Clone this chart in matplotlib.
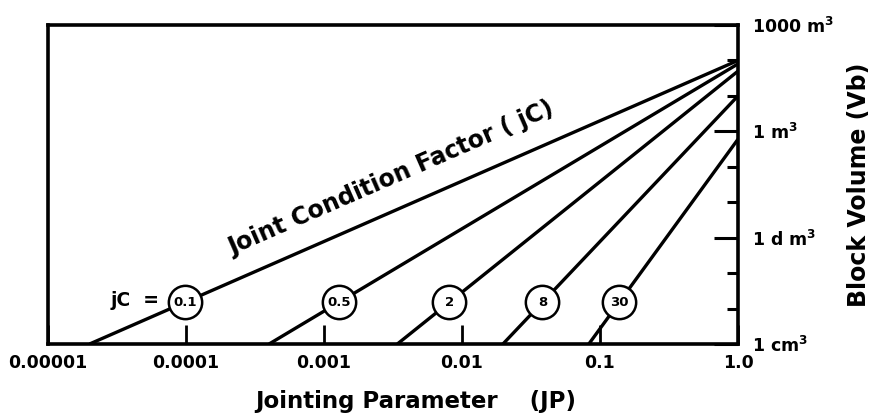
import numpy as np
import matplotlib
matplotlib.use('Agg')
import matplotlib.pyplot as plt
from matplotlib.ticker import FixedLocator, NullFormatter

# joint condition factor for each line
jc_values = [0.1, 0.5, 2, 8, 30]
jc_labels = ['0.1', '0.5', '2', '8', '30']
# jointing parameter where each line meets Vb = 1 cm3 (1e-6 m3)
jp_at_bottom = [2.0e-5, 4.0e-4, 3.4e-3, 0.0198, 0.083]
# block volume (m3) where each line meets JP = 1.0
vb_at_right = [100, 80, 50, 10, 0.6]

# axis ticks
jp_ticks = [1e-5, 1e-4, 1e-3, 1e-2, 1e-1, 1.0]
jp_tick_labels = ['0.00001', '0.0001', '0.001', '0.01', '0.1', '1.0']
vb_major = [1e-6, 1e-3, 1.0, 1e3]
vb_major_labels = [r'1 cm$^\mathbf{3}$', r'1 d m$^\mathbf{3}$',
                   r'1 m$^\mathbf{3}$', r'1000 m$^\mathbf{3}$']
vb_minor = [1e-5, 1e-4, 1e-2, 1e-1, 10, 100]

# level (m3) where the jC circles sit
circle_vb = 1.5e-5

plt.rcParams['font.family'] = ['DejaVu Sans']
plt.rcParams['font.weight'] = 'bold'

fig = plt.figure(figsize=(8.78, 4.20), dpi=100)
ax = fig.add_axes([48 / 878, 76 / 420, 690 / 878, 319 / 420])
ax.set_xscale('log')
ax.set_yscale('log')
ax.set_xlim(1e-5, 1.0)
ax.set_ylim(1e-6, 1e3)

for s in ax.spines.values():
    s.set_linewidth(2.6)

# x axis
ax.xaxis.set_major_locator(FixedLocator(jp_ticks))
ax.set_xticklabels(jp_tick_labels)
ax.xaxis.set_minor_locator(FixedLocator([]))
ax.tick_params(axis='x', which='major', direction='in', length=14, width=2,
               pad=7, labelsize=12.5)

# y axis on the right
ax.yaxis.tick_right()
ax.yaxis.set_major_locator(FixedLocator(vb_major))
ax.set_yticklabels(vb_major_labels)
ax.yaxis.set_minor_locator(FixedLocator(vb_minor))
ax.yaxis.set_minor_formatter(NullFormatter())
ax.tick_params(axis='y', which='major', direction='in', length=17, width=2.2,
               pad=10, labelsize=12.5)
ax.tick_params(axis='y', which='minor', direction='in', length=8, width=2.2)
ax.yaxis.set_label_position('right')

# jC lines and their circled labels
for jc, lab, jp0, vb1 in zip(jc_values, jc_labels, jp_at_bottom, vb_at_right):
    ax.plot([jp0, 1.0], [1e-6, vb1], color='black', lw=2.4,
            solid_capstyle='butt', zorder=3)
    # position along the line in log space
    t = (np.log10(circle_vb) + 6) / (np.log10(vb1) + 6)
    cx = 10 ** (np.log10(jp0) * (1 - t))
    ax.plot(cx, circle_vb, 'o', ms=24, mfc='white', mec='black', mew=1.8,
            zorder=4)
    ax.text(cx, circle_vb, lab, ha='center', va='center', fontsize=9.5,
            fontweight='bold', zorder=5)

# "jC =" in front of the first circle
ax.annotate('jC  =', xy=(1e-4, circle_vb), xytext=(-19, 1),
            textcoords='offset points', ha='right', va='center',
            fontsize=13.5, fontweight='bold')

# label along the top line
p0 = ax.transData.transform((jp_at_bottom[0], 1e-6))
p1 = ax.transData.transform((1.0, vb_at_right[0]))
theta = np.degrees(np.arctan2(p1[1] - p0[1], p1[0] - p0[0]))
mid_jp = 3.8e-3
t = np.log10(mid_jp / jp_at_bottom[0]) / np.log10(1.0 / jp_at_bottom[0])
mid_vb = 10 ** (-6 + t * (np.log10(vb_at_right[0]) + 6))
d = 24
off = (-np.sin(np.radians(theta)) * d, np.cos(np.radians(theta)) * d)
ax.annotate('Joint Condition Factor ( jC)', xy=(mid_jp, mid_vb), xytext=off,
            textcoords='offset pixels', rotation=theta, rotation_mode='anchor',
            ha='center', va='baseline', fontsize=17, fontweight='bold')

ax.set_xlabel('Jointing Parameter    (JP)', fontsize=16.5, fontweight='bold',
              labelpad=13, x=0.533)
ax.set_ylabel('Block Volume (Vb)', fontsize=17, fontweight='bold',
              labelpad=9)

fig.savefig('out.png', dpi=100)
